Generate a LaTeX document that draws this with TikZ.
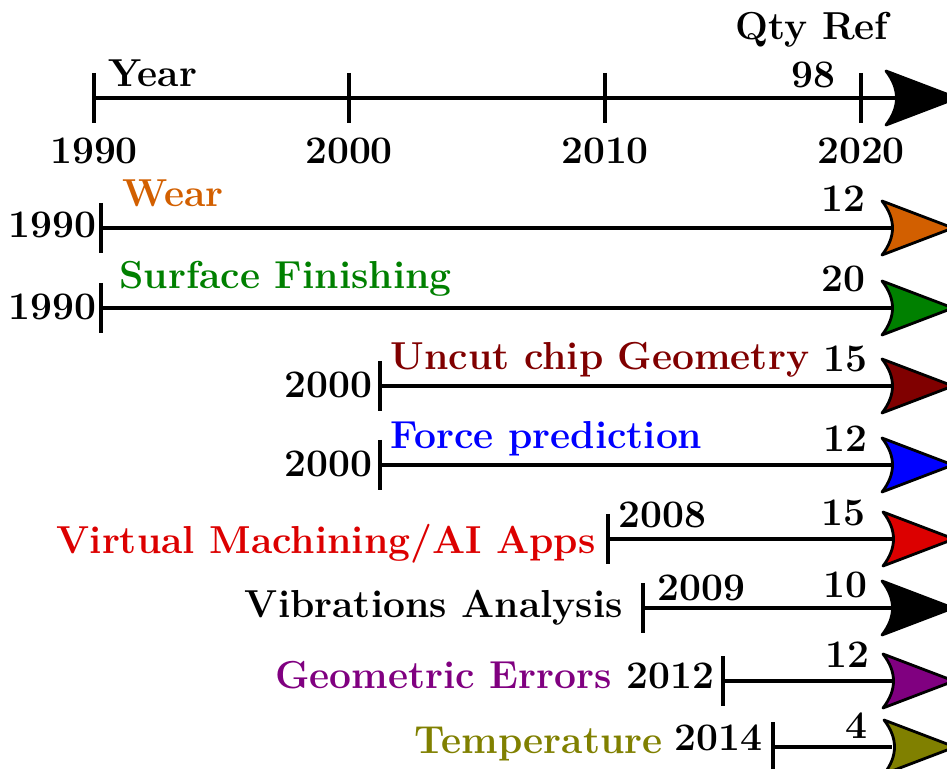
\documentclass[tikz,border=0pt]{standalone}
\usepackage{fontspec}
\definecolor{wearc}{RGB}{210,95,0}
\definecolor{surfc}{RGB}{0,128,0}
\definecolor{chipc}{RGB}{128,0,0}
\definecolor{forcec}{RGB}{0,0,255}
\definecolor{vmc}{RGB}{220,0,0}
\definecolor{geoc}{RGB}{128,0,128}
\definecolor{tempc}{RGB}{128,128,0}
\tikzset{
  lbl/.style={inner sep=0pt, font=\bfseries\fontsize{19.5}{23}\selectfont},
  axisline/.style={line width=2.4pt},
  tickmark/.style={line width=2.4pt},
  pics/head/.style 2 args={code={
    \filldraw[fill=#1, draw=black, line width=1.4pt, line join=round]
      (0,#2) -- (71,0) -- (0,-#2) .. controls (14,-9) and (14,9) .. cycle;
  }},
}
\begin{document}
\begin{tikzpicture}[x=0.5pt, y=-0.5pt]
\useasboundingbox (0,0) rectangle (947,769);
\clip (0,0) rectangle (947,769);

% year axis
\coordinate (a0) at (94,98);
\coordinate (a1) at (349,98);
\coordinate (a2) at (605,98);
\coordinate (a3) at (861,98);
\coordinate (aend) at (897,98);
\draw[axisline] (a0) -- (aend);
\foreach \t in {a0,a1,a2,a3}
  \draw[tickmark] ([yshift=12.5pt]\t) -- ([yshift=-12.5pt]\t);
\pic at (886,98) {head={black}{27}};
\node[lbl, anchor=base] (y1990) at (94,164) {1990};
\node[lbl, anchor=base] (y2000) at (349,164) {2000};
\node[lbl, anchor=base] (y2010) at (605,164) {2010};
\node[lbl, anchor=base] (y2020) at (861,164) {2020};
\node[lbl, anchor=base west] (year) at (108,87) {Year};
\node[lbl, anchor=base east] (qtot) at (836,88) {98};
\node[lbl, anchor=base] (qref) at (812,40) {Qty Ref};

% Wear
\coordinate (s1) at (101,228);
\coordinate (e1) at (892,228);
\draw[axisline] (s1) -- (e1);
\draw[tickmark] ([yshift=12.5pt]s1) -- ([yshift=-12.5pt]s1);
\pic at (882,228) {head={wearc}{27}};
\node[lbl, anchor=base east] (d1) at (97,238) {1990};
\node[lbl, anchor=base west, text=wearc] (t1) at (122,207) {Wear};
\node[lbl, anchor=base east] (q1) at (866,212) {12};

% Surface Finishing
\coordinate (s2) at (101,308);
\coordinate (e2) at (892,308);
\draw[axisline] (s2) -- (e2);
\draw[tickmark] ([yshift=12.5pt]s2) -- ([yshift=-12.5pt]s2);
\pic at (882,308) {head={surfc}{27}};
\node[lbl, anchor=base east] (d2) at (97,320) {1990};
\node[lbl, anchor=base west, text=surfc] (t2) at (119,289) {Surface Finishing};
\node[lbl, anchor=base east] (q2) at (866,292) {20};

% Uncut chip Geometry
\coordinate (s3) at (380,386);
\coordinate (e3) at (892,386);
\draw[axisline] (s3) -- (e3);
\draw[tickmark] ([yshift=12.5pt]s3) -- ([yshift=-12.5pt]s3);
\pic at (882,386) {head={chipc}{27}};
\node[lbl, anchor=base east] (d3) at (373,398) {2000};
\node[lbl, anchor=base west, text=chipc] (t3) at (390,370) {Uncut chip Geometry};
\node[lbl, anchor=base east] (q3) at (868,372) {15};

% Force prediction
\coordinate (s4) at (380,465);
\coordinate (e4) at (892,465);
\draw[axisline] (s4) -- (e4);
\draw[tickmark] ([yshift=12.5pt]s4) -- ([yshift=-12.5pt]s4);
\pic at (882,465) {head={forcec}{27}};
\node[lbl, anchor=base east] (d4) at (373,477) {2000};
\node[lbl, anchor=base west, text=forcec] (t4) at (390,449) {Force prediction};
\node[lbl, anchor=base east] (q4) at (868,452) {12};

% Virtual Machining / AI Apps
\coordinate (s5) at (608,539);
\coordinate (e5) at (892,539);
\draw[axisline] (s5) -- (e5);
\draw[tickmark] ([yshift=12.5pt]s5) -- ([yshift=-12.5pt]s5);
\pic at (883,539) {head={vmc}{27}};
\node[lbl, anchor=base east, text=vmc] (t5) at (596,553) {Virtual Machining/AI Apps};
\node[lbl, anchor=base west] (d5) at (618,528) {2008};
\node[lbl, anchor=base east] (q5) at (866,525) {15};

% Vibrations Analysis
\coordinate (s6) at (643,608);
\coordinate (e6) at (892,608);
\draw[axisline] (s6) -- (e6);
\draw[tickmark] ([yshift=12.5pt]s6) -- ([yshift=-12.5pt]s6);
\pic at (882,608) {head={black}{27}};
\node[lbl, anchor=base east] (t6) at (623,617) {Vibrations Analysis};
\node[lbl, anchor=base west] (d6) at (657,600) {2009};
\node[lbl, anchor=base east] (q6) at (868,597) {10};

% Geometric Errors
\coordinate (s7) at (723,681);
\coordinate (e7) at (892,681);
\draw[axisline] (s7) -- (e7);
\draw[tickmark] ([yshift=12.5pt]s7) -- ([yshift=-12.5pt]s7);
\pic at (883,681) {head={geoc}{27}};
\node[lbl, anchor=base east, text=geoc] (t7) at (612,688) {Geometric Errors};
\node[lbl, anchor=base east] (d7) at (715,688) {2012};
\node[lbl, anchor=base east] (q7) at (870,667) {12};

% Temperature
\coordinate (s8) at (773,747);
\coordinate (e8) at (892,747);
\draw[axisline] (s8) -- (e8);
\draw[tickmark] ([yshift=12.5pt]s8) -- ([yshift=-12.5pt]s8);
\pic at (884,747) {head={tempc}{27}};
\node[lbl, anchor=base east, text=tempc] (t8) at (663,753) {Temperature};
\node[lbl, anchor=base east] (d8) at (763,750) {2014};
\node[lbl, anchor=base east] (q8) at (868,738) {4};
\end{tikzpicture}
\end{document}
